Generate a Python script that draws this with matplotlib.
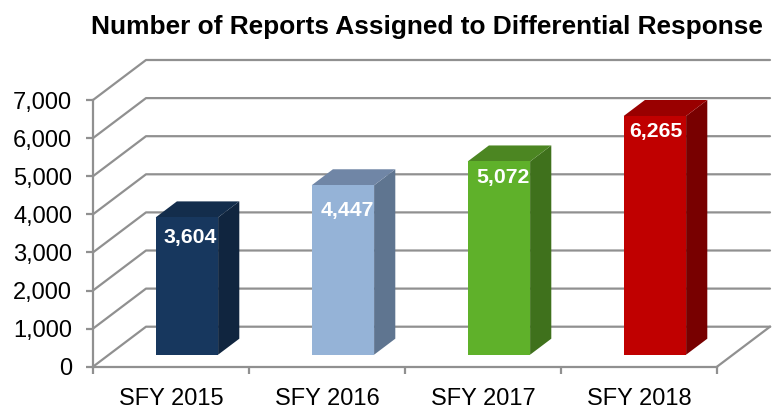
import matplotlib
matplotlib.use('Agg')
import matplotlib.pyplot as plt
from matplotlib.patches import Polygon
from matplotlib.ticker import FuncFormatter

plt.rcParams['font.family'] = ['Liberation Sans', 'DejaVu Sans']

categories = ['SFY 2015', 'SFY 2016', 'SFY 2017', 'SFY 2018']
reports = [3604, 4447, 5072, 6265]
y_ticks = [0, 1000, 2000, 3000, 4000, 5000, 6000, 7000]

front_colors = ['#17375E', '#95B3D7', '#5FB12A', '#C00000']
top_colors = ['#132D4C', '#7086A6', '#4C8622', '#990000']
side_colors = ['#10253F', '#5F7590', '#3F711C', '#780000']

grid_color = '#909090'
W, H = 777, 408

# depth of the fake 3d box, in data units (53px across, 40px up)
depth_x = 53 / 156
depth_y = 40 / 38.1 * 1000
bar_width = 0.4
# small shifts of the data labels, in px, left by the original chart
label_dx = [3, 4, 4, 1]
label_dy = [-20, -25, -16, -15]


def oblique(x, y, d):
    # d = 0 front plane, d = 1 back wall
    return x + d * depth_x, y + d * depth_y


fig = plt.figure(figsize=(W / 100, H / 100), dpi=100)
ax = fig.add_axes([93 / W, 1 - 366.7 / H, 624 / W, 266.7 / H])
ax.set_xlim(0, 4)
ax.set_ylim(0, 7000)

# walls and floor
for v in y_ticks:
    xs, ys = zip(oblique(0, v, 0), oblique(0, v, 1), oblique(4, v, 1))
    ax.plot(xs, ys, color=grid_color, lw=1.6, clip_on=False, zorder=1, solid_capstyle='round')
xs, ys = zip(oblique(4, 0, 0), oblique(4, 0, 1))
ax.plot(xs, ys, color=grid_color, lw=1.6, clip_on=False, zorder=1)

# bars: front, top and side faces
for i, v in enumerate(reports):
    x0 = i + 0.5 - bar_width / 2
    x1 = i + 0.5 + bar_width / 2
    d0, d1 = 0.30, 0.70
    front = [oblique(x0, 0, d0), oblique(x1, 0, d0), oblique(x1, v, d0), oblique(x0, v, d0)]
    top = [oblique(x0, v, d0), oblique(x1, v, d0), oblique(x1, v, d1), oblique(x0, v, d1)]
    side = [oblique(x1, 0, d0), oblique(x1, 0, d1), oblique(x1, v, d1), oblique(x1, v, d0)]
    ax.add_patch(Polygon(side, closed=True, fc=side_colors[i], ec='none', clip_on=False, zorder=3))
    ax.add_patch(Polygon(top, closed=True, fc=top_colors[i], ec='none', clip_on=False, zorder=3))
    ax.add_patch(Polygon(front, closed=True, fc=front_colors[i], ec='none', clip_on=False, zorder=4))
    lx, ly = oblique(i + 0.5, v, d0)
    ax.annotate(f'{v:,}', (lx, ly), xytext=(label_dx[i] * 0.72, label_dy[i] * 0.72),
                textcoords='offset points', ha='center', va='center', color='white',
                fontsize=15.3, fontweight='bold', zorder=5)

for s in ['top', 'right']:
    ax.spines[s].set_visible(False)
for s in ['left', 'bottom']:
    ax.spines[s].set_color(grid_color)
    ax.spines[s].set_linewidth(1.6)

ax.set_yticks(y_ticks)
ax.yaxis.set_major_formatter(FuncFormatter(lambda v, p: f'{int(v):,}'))
ax.set_xticks([0, 1, 2, 3, 4])
ax.set_xticklabels([])
ax.set_xticks([0.5, 1.5, 2.5, 3.5], labels=categories, minor=True)
ax.tick_params(axis='y', length=5, width=1.6, color=grid_color, labelsize=17, pad=10, labelcolor='#000000')
ax.tick_params(axis='x', which='major', length=5, width=1.6, color=grid_color)
ax.tick_params(axis='x', which='minor', length=0, labelsize=17, pad=15, labelcolor='#000000')
ax.patch.set_visible(False)

fig.text(427 / W, 1 - 27 / H, 'Number of Reports Assigned to Differential Response',
         ha='center', va='center', fontsize=18.9, fontweight='bold', color='black')

fig.savefig('out.png', dpi=100)
